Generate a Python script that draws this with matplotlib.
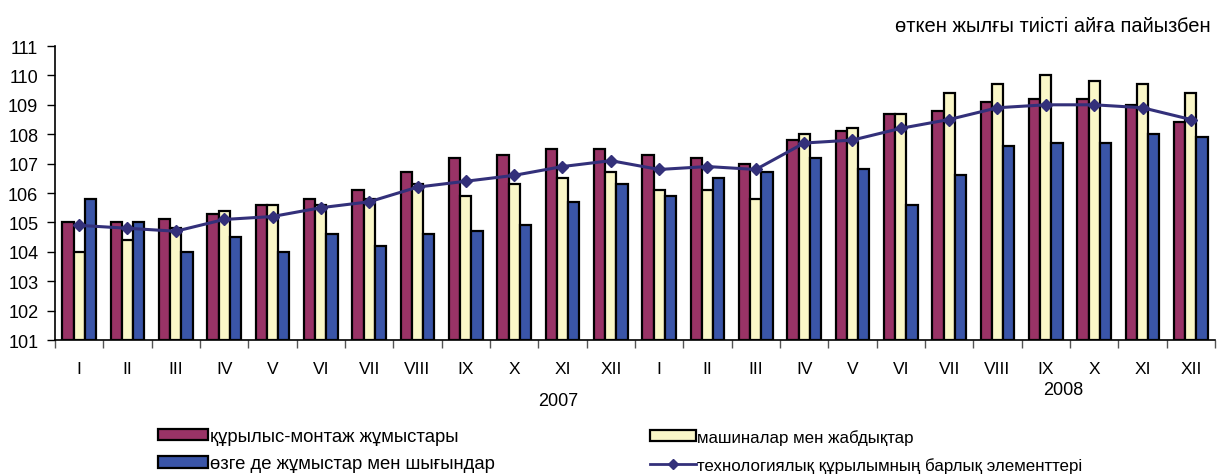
import matplotlib
matplotlib.use('Agg')
import matplotlib.pyplot as plt
import numpy as np
from matplotlib.patches import Patch
from matplotlib.lines import Line2D

plt.rcParams['font.family'] = ['Liberation Sans', 'DejaVu Sans']

months = ['I', 'II', 'III', 'IV', 'V', 'VI', 'VII', 'VIII', 'IX', 'X', 'XI', 'XII',
          'I', 'II', 'III', 'IV', 'V', 'VI', 'VII', 'VIII', 'IX', 'X', 'XI', 'XII']
years = ['2007', '2008']

construction = [105.0, 105.0, 105.1, 105.3, 105.6, 105.8, 106.1, 106.7, 107.2, 107.3, 107.5, 107.5,
                107.3, 107.2, 107.0, 107.8, 108.1, 108.7, 108.8, 109.1, 109.2, 109.2, 109.0, 108.4]
machinery = [104.0, 104.4, 104.8, 105.4, 105.6, 105.6, 105.8, 106.3, 105.9, 106.3, 106.5, 106.7,
             106.1, 106.1, 105.8, 108.0, 108.2, 108.7, 109.4, 109.7, 110.0, 109.8, 109.7, 109.4]
other = [105.8, 105.0, 104.0, 104.5, 104.0, 104.6, 104.2, 104.6, 104.7, 104.9, 105.7, 106.3,
         105.9, 106.5, 106.7, 107.2, 106.8, 105.6, 106.6, 107.6, 107.7, 107.7, 108.0, 107.9]
total = [104.9, 104.8, 104.7, 105.1, 105.2, 105.5, 105.7, 106.2, 106.4, 106.6, 106.9, 107.1,
         106.8, 106.9, 106.8, 107.7, 107.8, 108.2, 108.5, 108.9, 109.0, 109.0, 108.9, 108.5]

labels = ['құрылыс-монтаж жұмыстары', 'машиналар мен жабдықтар',
          'өзге де жұмыстар мен шығындар', 'технологиялық құрылымның барлық элементтері']

c_red = '#993366'
c_yel = '#FAF7C8'
c_blue = '#3A55A8'
c_line = '#33307A'

base = 101
fig = plt.figure(figsize=(12.19, 4.77), dpi=100)
ax = fig.add_axes([55 / 1219, 1 - 341 / 477, 1160 / 1219, 294 / 477])

x = np.arange(len(months))
w = 0.23
for off, vals, col in [(-w, construction, c_red), (0, machinery, c_yel), (w, other, c_blue)]:
    ax.bar(x + off, np.array(vals) - base, w, bottom=base, color=col,
           edgecolor='black', linewidth=1.6, zorder=2)
ax.plot(x, total, color=c_line, linewidth=2.2, marker='D', markersize=6.5, zorder=3)

ax.set_xlim(-0.5, len(months) - 0.5)
ax.set_ylim(101, 111)
ax.set_yticks(np.arange(101, 112, 1))
ax.tick_params(axis='y', labelsize=13, length=6, width=1, pad=6)
ax.set_xticks(np.arange(-0.5, len(months), 1))
ax.set_xticklabels([])
ax.set_xticks(x, minor=True)
ax.set_xticklabels(months, minor=True, fontsize=12.5)
ax.tick_params(axis='x', which='major', length=6, width=1, color='#555555')
ax.tick_params(axis='x', which='minor', length=0, pad=15)
ax.spines['top'].set_visible(False)
ax.spines['right'].set_visible(False)
ax.spines['left'].set_linewidth(1.2)
ax.spines['bottom'].set_linewidth(1.2)

fig.text(558 / 1219, 1 - 402 / 477, years[0], ha='center', va='center', fontsize=13)
fig.text(1063 / 1219, 1 - 391 / 477, years[1], ha='center', va='center', fontsize=13)
fig.text(1211 / 1219, 1 - 26 / 477, 'өткен жылғы тиісті айға пайызбен',
         ha='right', va='center', fontsize=14.5)

h_red = Patch(facecolor=c_red, edgecolor='black', linewidth=1.6)
h_yel = Patch(facecolor=c_yel, edgecolor='black', linewidth=1.6)
h_blue = Patch(facecolor=c_blue, edgecolor='black', linewidth=1.6)
h_line = Line2D([], [], color=c_line, linewidth=2, marker='D', markersize=5)

kw = dict(frameon=False, handleheight=0.6, handletextpad=0.1, borderaxespad=0,
          borderpad=0, loc='upper left')
leg1 = fig.legend([h_red, h_blue], [labels[0], labels[2]], fontsize=13.3,
                  handlelength=2.7, labelspacing=0.55,
                  bbox_to_anchor=(158 / 1219, 1 - 429 / 477), **kw)
leg2 = fig.legend([h_yel, h_line], [labels[1], labels[3]], fontsize=12.2,
                  handlelength=2.7, labelspacing=0.72,
                  bbox_to_anchor=(650 / 1219, 1 - 430 / 477), **kw)

fig.savefig('out.png', dpi=100)
